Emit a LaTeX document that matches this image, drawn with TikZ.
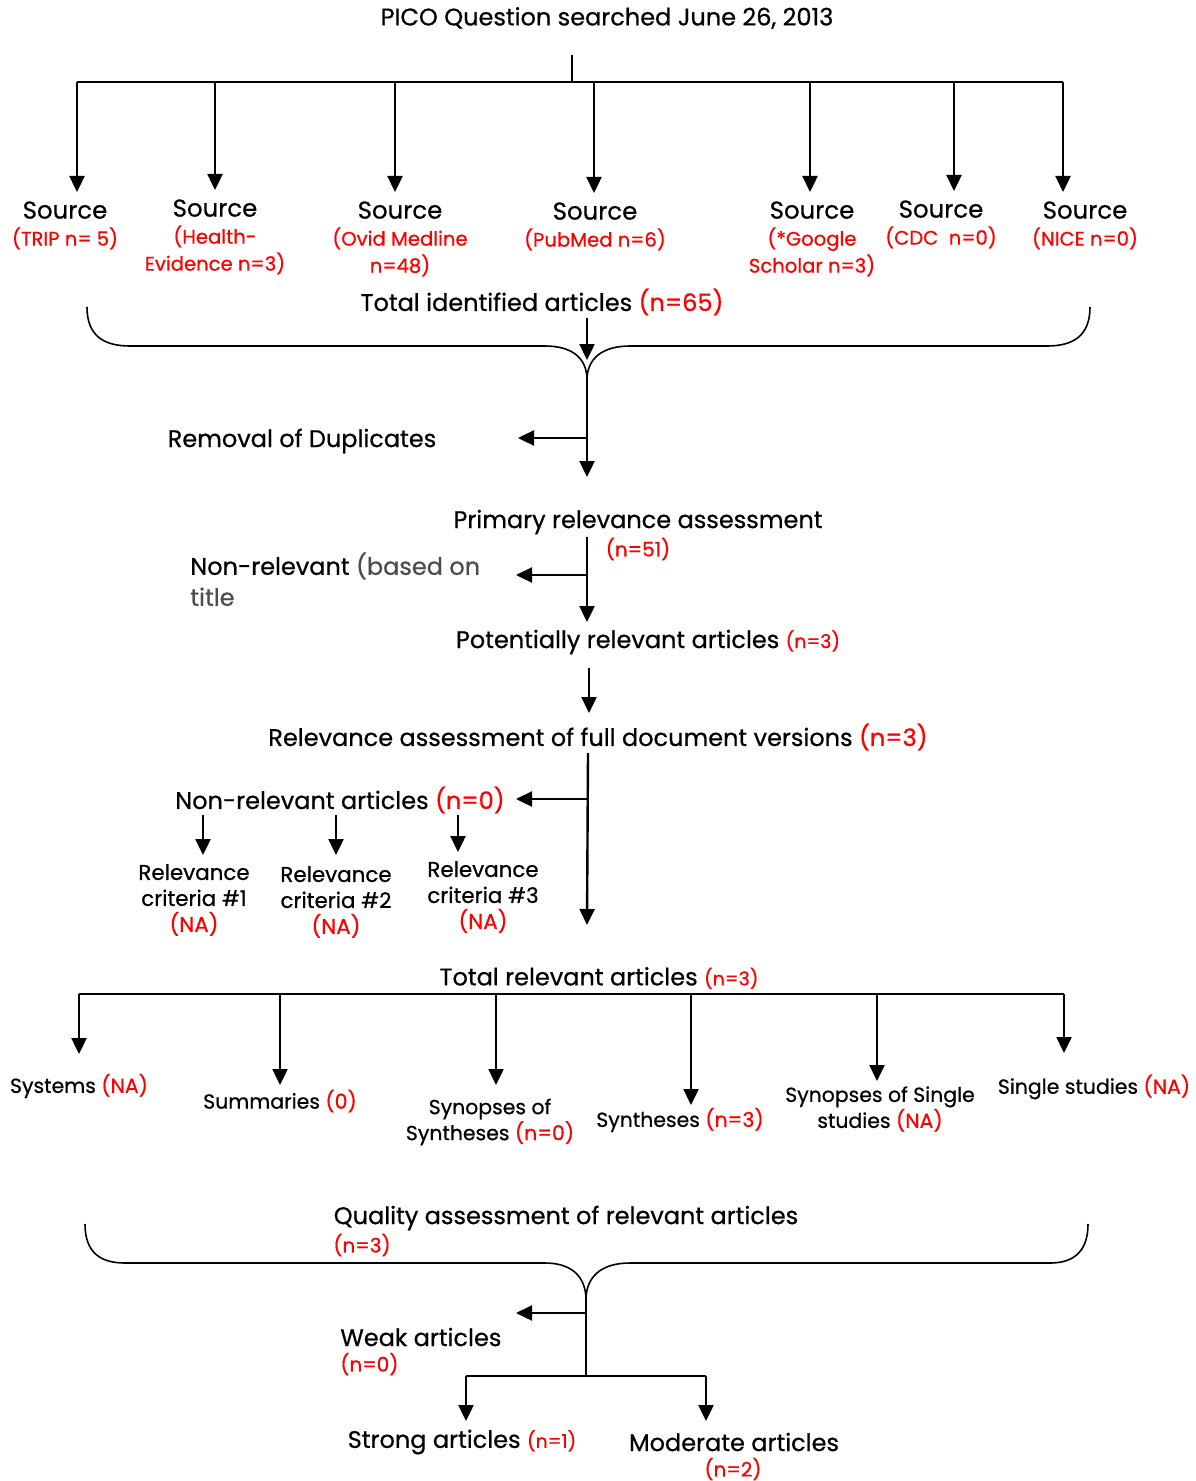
\documentclass[tikz,border=0pt]{standalone}
\usepackage{fontspec}
\setmainfont{Poppins}[FakeBold=0.6]
\usetikzlibrary{arrows.meta}

\tikzset{
  arr/.style={line width=1.2pt,-{Triangle[width=7.5pt,length=8pt]}},
  wire/.style={line width=1.1pt},
  brace/.style={line width=0.8pt},
  big/.style={font=\fontsize{12}{15.5}\selectfont,inner sep=1pt},
  small/.style={font=\fontsize{10}{12}\selectfont,inner sep=1pt},
  srcbox/.style={anchor=north,align=center,inner sep=1pt,inner ysep=4.5pt,
    font=\fontsize{12.2}{13.5}\selectfont},
  crit/.style={align=center,inner sep=1pt,font=\fontsize{10.7}{13}\selectfont},
  cat/.style={align=center,inner sep=1pt,font=\fontsize{10.2}{13}\selectfont},
}
\newcommand{\nred}[1]{\textcolor{red}{#1}}
\newcommand{\nsm}[1]{{\fontsize{9.5}{11}\selectfont\textcolor{red}{#1}}}
\newcommand{\srcred}[1]{{\fontsize{9.8}{12.5}\selectfont\textcolor{red}{#1}}}

\begin{document}
\begin{tikzpicture}[x=0.5pt,y=-0.5pt]
\useasboundingbox (0,0) rectangle (1195,1481);

% search and the seven sources
\node[big] (pico) at (607,18) {PICO Question searched June 26, 2013};
\coordinate (stub) at (572,55);
\coordinate (hub) at (572,82);
\draw[wire] (stub) -- (hub);
\foreach \i/\x in {1/77,2/215,3/395,4/594,5/810,6/954,7/1063}
  \coordinate (b\i) at (\x,82);
\draw[wire] (b1) -- (b7);

\node[srcbox] (s1) at (65,192) {Source\\\srcred{(TRIP n= 5)}};
\node[srcbox] (s2) at (215,190) {Source\\\srcred{(Health-}\\\srcred{Evidence n=3)}};
\node[srcbox] (s3) at (400,192) {Source\\\srcred{(Ovid Medline}\\\srcred{n=48)}};
\node[srcbox] (s4) at (595,193) {Source\\\srcred{(PubMed n=6)}};
\node[srcbox] (s5) at (812,192) {Source\\\srcred{(*Google}\\\srcred{Scholar n=3)}};
\node[srcbox] (s6) at (941,191) {Source\\\srcred{(CDC~~n=0)}};
\node[srcbox] (s7) at (1085,192) {Source\\\srcred{(NICE n=0)}};
\foreach \i in {1,...,7}
  \draw[arr] (b\i) -- (b\i |- s\i.north);

% total identified + brace
\node[big] (tot) at (542,302) {Total identified articles \nred{(n=65)}};
\coordinate (cusp1) at (587,380);
\coordinate (in1) at (587,360);
\draw[arr] (cusp1 |- tot.south) -- (in1);
\draw[brace] (87,307) .. controls (87,336) and (104,346) .. (130,346) -- (545,346)
  .. controls (572,346) and (587,358) .. (cusp1);
\draw[brace] (1090,307) .. controls (1090,336) and (1073,346) .. (1047,346) -- (630,346)
  .. controls (603,346) and (587,358) .. (cusp1);

% duplicates
\node[big] (dup) at (302,441) {Removal of Duplicates};
\coordinate (j1) at (587,438);
\coordinate (dupT) at (518,438);
\coordinate (out1) at (587,477);
\draw[arr] (cusp1) -- (out1);
\draw[arr] (j1) -- (dupT);

% primary relevance
\node[big] (prim) at (638,522) {Primary relevance assessment};
\node[small] (primN) at (638,549) {\nred{(n=51)}};
\node[big,anchor=north west,align=left] (nonrel) at (188,550)
  {Non-relevant {\color{black!70}(based on}\\{\color{black!70}title}};
\coordinate (j2) at (587,575);
\coordinate (nrT) at (516,575);
\coordinate (out2) at (587,622);
\draw[arr] (j2 |- prim.south) -- (out2);
\draw[arr] (j2) -- (nrT);

\node[big] (pot) at (648,642) {Potentially relevant articles \nsm{(n=3)}};
\coordinate (p1) at (589,668);
\coordinate (p2) at (589,713);
\draw[arr] (p1) -- (p2);

% full documents
\node[big] (full) at (598,737) {Relevance assessment of full document versions \nred{(n=3)}};
\coordinate (sp3) at (588,753);
\coordinate (j3) at (588,799);
\coordinate (out3) at (587,925);
\draw[arr] (sp3) -- (out3);
\node[big] (nra) at (340,800) {Non-relevant articles \nred{(n=0)}};
\coordinate (nraT) at (516,799);
\draw[arr] (j3) -- (nraT);

\foreach \i/\x/\t in {1/203/855,2/336/855,3/458/852}{
  \coordinate (ca\i) at (\x,815);
  \coordinate (ct\i) at (\x,\t);
  \draw[arr] (ca\i) -- (ct\i);
}
\node[crit] (c1) at (194,900) {Relevance\\criteria \#1\\\nred{(NA)}};
\node[crit] (c2) at (336,902) {Relevance\\criteria \#2\\\nred{(NA)}};
\node[crit] (c3) at (483,897) {Relevance\\criteria \#3\\\nred{(NA)}};

% total relevant and types
\node[big] (trel) at (599,978) {Total relevant articles \nsm{(n=3)}};
\foreach \i/\x/\t in {1/79/1054,2/280/1085,3/496/1085,4/691/1105,5/877/1081,6/1064/1053}{
  \coordinate (k\i) at (\x,994);
  \coordinate (kt\i) at (\x,\t);
  \draw[arr] (k\i) -- (kt\i);
}
\draw[wire] (k1) -- (k6);
\node[cat] (t1) at (79,1086) {Systems \nred{(NA)}};
\node[cat] (t2) at (280,1101) {Summaries \nred{(0)}};
\node[cat] (t3) at (490,1122) {Synopses of\\Syntheses \nred{(n=0)}};
\node[cat] (t4) at (680,1120) {Syntheses \nred{(n=3)}};
\node[cat] (t5) at (880,1109) {Synopses of Single\\studies \nred{(NA)}};
\node[cat] (t6) at (1094,1087) {Single studies \nred{(NA)}};

% quality
\node[big] (qual) at (566,1218) {Quality assessment of relevant articles};
\node[small,anchor=west] (qualN) at (331,1245) {\nred{(n=3)}};
\coordinate (cusp2) at (586,1300);
\draw[brace] (85,1224) .. controls (85,1253) and (101,1263) .. (125,1263) -- (545,1263)
  .. controls (571,1263) and (586,1276) .. (cusp2);
\draw[brace] (1088,1224) .. controls (1088,1253) and (1072,1263) .. (1050,1263) -- (630,1263)
  .. controls (602,1263) and (586,1276) .. (cusp2);
\coordinate (j4) at (586,1313);
\coordinate (weakT) at (516,1313);
\coordinate (fork) at (586,1376);
\draw[brace] (cusp2) -- (fork);
\draw[arr] (j4) -- (weakT);
\node[big,anchor=west] (weak) at (338,1337) {Weak articles};
\node[small,anchor=west] (weakN) at (338,1364) {\nred{(n=0)}};

\coordinate (fL) at (466,1376);
\coordinate (fR) at (706,1376);
\coordinate (sT) at (466,1421);
\coordinate (mT) at (706,1421);
\draw[wire] (fL) -- (fR);
\draw[arr] (fL) -- (sT);
\draw[arr] (fR) -- (mT);
\node[big] (strong) at (462,1442) {Strong articles \nsm{(n=1)}};
\node[big] (mod) at (734,1442) {Moderate articles};
\node[small] (modN) at (733,1469) {\nred{(n=2)}};

\end{tikzpicture}
\end{document}
